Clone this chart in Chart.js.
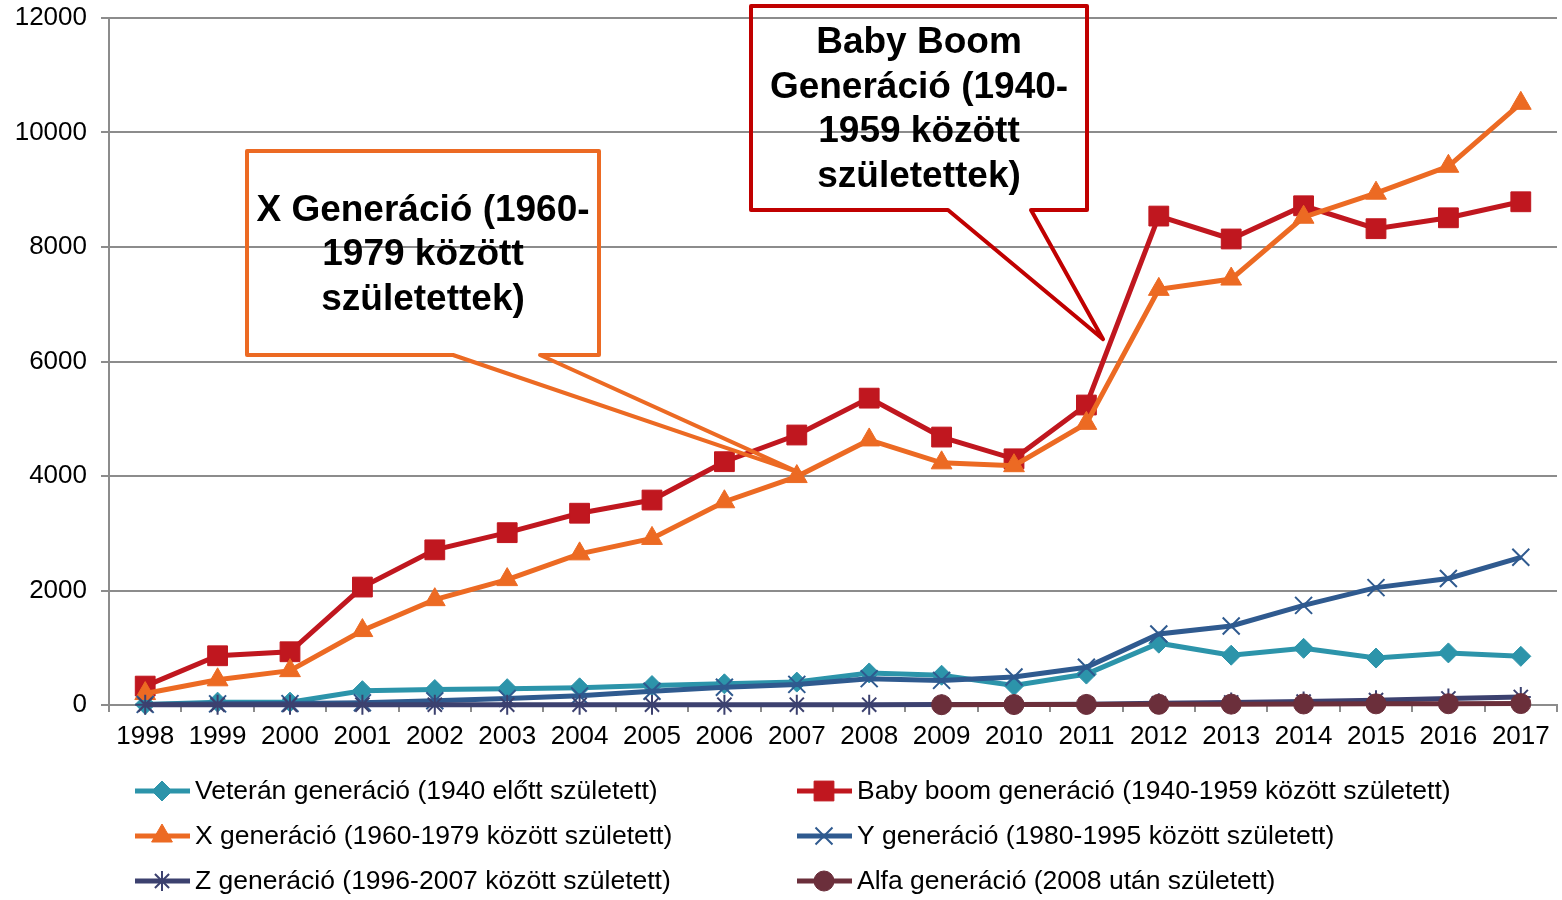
<!DOCTYPE html>
<html>
<head>
<meta charset="utf-8">
<title>Generációk</title>
<script src="https://cdn.jsdelivr.net/npm/chart.js@4.4.0/dist/chart.umd.min.js"></script>
<style>
  body { margin: 0; background: #fff; }
  canvas { display: block; }
</style>
</head>
<body>
<canvas id="myChart" width="1562" height="900"></canvas>
<script>
// Data

var years = ["1998", "1999", "2000", "2001", "2002", "2003", "2004", "2005", "2006", "2007",
             "2008", "2009", "2010", "2011", "2012", "2013", "2014", "2015", "2016", "2017"];

var veteran  = [10, 50, 50, 250, 270, 285, 300, 340, 370, 400, 560, 520, 340, 540, 1080, 870, 990, 820, 910, 850];
var babyBoom = [330, 860, 930, 2060, 2710, 3010, 3350, 3580, 4250, 4716, 5360, 4680, 4300, 5240, 8540, 8140, 8720, 8320, 8510, 8790];
var genX     = [200, 440, 600, 1300, 1840, 2190, 2640, 2910, 3550, 3990, 4630, 4230, 4180, 4920, 7260, 7440, 8520, 8940, 9410, 10510];
var genY     = [10, 20, 25, 40, 75, 115, 160, 240, 310, 360, 460, 430, 490, 660, 1240, 1380, 1740, 2050, 2210, 2580];
var genZ     = [5, 5, 5, 5, 5, 5, 5, 5, 5, 5, 5, 8, 10, 15, 30, 45, 60, 85, 115, 140];
var alfa     = [null, null, null, null, null, null, null, null, null, null, null, 5, 8, 10, 12, 15, 18, 20, 22, 25];

var yTicks = [0, 2000, 4000, 6000, 8000, 10000, 12000];

var names = [
  "Veterán generáció (1940 előtt született)",
  "Baby boom generáció (1940-1959 között született)",
  "X generáció (1960-1979 között született)",
  "Y generáció (1980-1995 között született)",
  "Z generáció (1996-2007 között született)",
  "Alfa generáció (2008 után született)"
];

var FONT = '"Liberation Sans", Arial, sans-serif';
var GRID = '#8c8c8c';

// Callout boxes (box in px, tip in data coords: category index, value)
var callouts = [
  {
    lines: ["Baby Boom", "Generáció (1940-", "1959 között", "születettek)"],
    color: '#C00000',
    box: [751, 6, 1087, 210],
    base: [948, 1031],
    tip: [13.23, 6390]
  },
  {
    lines: ["X Generáció (1960-", "1979 között", "születettek)"],
    color: '#EC6A23',
    box: [247, 151, 599, 355],
    base: [453, 540],
    tip: [9.05, 4050]
  }
];

function series(i, data, color, style, radius, bw) {
  return {
    label: names[i],
    data: data,
    borderColor: color,
    backgroundColor: color,
    borderWidth: 5,
    pointStyle: style,
    pointRadius: radius,
    pointBorderWidth: bw,
    pointBorderColor: color,
    pointBackgroundColor: color,
    tension: 0,
    clip: false,
    order: 6 - i
  };
}

function noPad(s) {
  s.paddingTop = 0;
  s.paddingBottom = 0;
  s.paddingLeft = 0;
  s.paddingRight = 0;
}

var calloutPlugin = {
  id: 'callouts',
  afterDatasetsDraw: function(chart) {
    var ctx = chart.ctx;
    var sx = chart.scales.x, sy = chart.scales.y;
    callouts.forEach(function(c) {
      var b = c.box;
      var tx = sx.getPixelForValue(c.tip[0]);
      var ty = sy.getPixelForValue(c.tip[1]);
      ctx.save();
      ctx.beginPath();
      ctx.moveTo(b[0], b[1]);
      ctx.lineTo(b[2], b[1]);
      ctx.lineTo(b[2], b[3]);
      ctx.lineTo(c.base[1], b[3]);
      ctx.lineTo(tx, ty);
      ctx.lineTo(c.base[0], b[3]);
      ctx.lineTo(b[0], b[3]);
      ctx.closePath();
      ctx.lineWidth = 4;
      ctx.lineJoin = 'round';
      ctx.strokeStyle = c.color;
      ctx.stroke();

      ctx.fillStyle = '#000';
      ctx.font = 'bold 37px ' + FONT;
      ctx.textAlign = 'center';
      ctx.textBaseline = 'middle';
      var cx = (b[0] + b[2]) / 2, cy = (b[1] + b[3]) / 2;
      c.lines.forEach(function(t, i) {
        ctx.fillText(t, cx, cy + 2 + (i - (c.lines.length - 1) / 2) * 44.5);
      });
      ctx.restore();
    });
  }
};

// Legend in two columns
var legendPlugin = {
  id: 'legend2col',
  afterDraw: function(chart) {
    var ctx = chart.ctx;
    var colX = [135, 797];
    var rowY = [791, 836, 881];
    chart.data.datasets.forEach(function(ds, i) {
      var x = colX[i % 2], y = rowY[Math.floor(i / 2)];
      ctx.save();
      ctx.strokeStyle = ds.borderColor;
      ctx.lineWidth = 5;
      ctx.beginPath();
      ctx.moveTo(x, y);
      ctx.lineTo(x + 55, y);
      ctx.stroke();
      ctx.fillStyle = ds.pointBackgroundColor;
      ctx.strokeStyle = ds.pointBorderColor;
      ctx.lineWidth = ds.pointBorderWidth;
      Chart.helpers.drawPoint(ctx, {
        pointStyle: ds.pointStyle,
        radius: ds.pointRadius,
        rotation: 0,
        borderWidth: ds.pointBorderWidth
      }, x + 27, y);
      ctx.fillStyle = '#000';
      ctx.font = '26.5px ' + FONT;
      ctx.textAlign = 'left';
      ctx.textBaseline = 'middle';
      ctx.fillText(ds.label, x + 60, y + 1);
      ctx.restore();
    });
  }
};

var ctx = document.getElementById('myChart').getContext('2d');

var chart = new Chart(ctx, {
  type: 'line',
  data: {
    labels: years,
    datasets: [
      series(0, veteran, '#2C94AA', 'rectRot', 10, 1),
      series(1, babyBoom, '#C0171F', 'rect', 14, 1),
      series(2, genX, '#EC6A23', 'triangle', 12, 1),
      series(3, genY, '#2F5A8F', 'crossRot', 12, 2),
      series(4, genZ, '#3C416F', 'star', 10, 2),
      series(5, alfa, '#6B2F3B', 'circle', 10, 1)
    ]
  },
  options: {
    responsive: false,
    animation: false,
    layout: { autoPadding: false, padding: { left: 0, top: 18, right: 5, bottom: 145 } },
    plugins: {
      legend: { display: false },
      tooltip: { enabled: false }
    },
    scales: {
      x: {
        offset: true,
        grid: { offset: true, drawOnChartArea: false, drawTicks: true, tickLength: 7, color: GRID, lineWidth: 2 },
        border: { display: true, color: GRID, width: 2 },
        ticks: { color: '#000', font: { family: FONT, size: 26 }, padding: 9, maxRotation: 0, autoSkip: false },
        afterFit: function(s) { s.height = 50; noPad(s); }
      },
      y: {
        min: 0,
        max: 12000,
        afterBuildTicks: function(s) { s.ticks = yTicks.map(function(v) { return { value: v }; }); },
        grid: { color: GRID, lineWidth: 2, drawTicks: true, tickLength: 8 },
        border: { display: true, color: GRID, width: 2 },
        ticks: {
          color: '#000',
          font: { family: FONT, size: 26 },
          padding: 14,
          callback: function(v) { return v; }
        },
        afterFit: function(s) { s.width = 109; noPad(s); }
      }
    }
  },
  plugins: [calloutPlugin, legendPlugin]
});
</script>
</body>
</html>
